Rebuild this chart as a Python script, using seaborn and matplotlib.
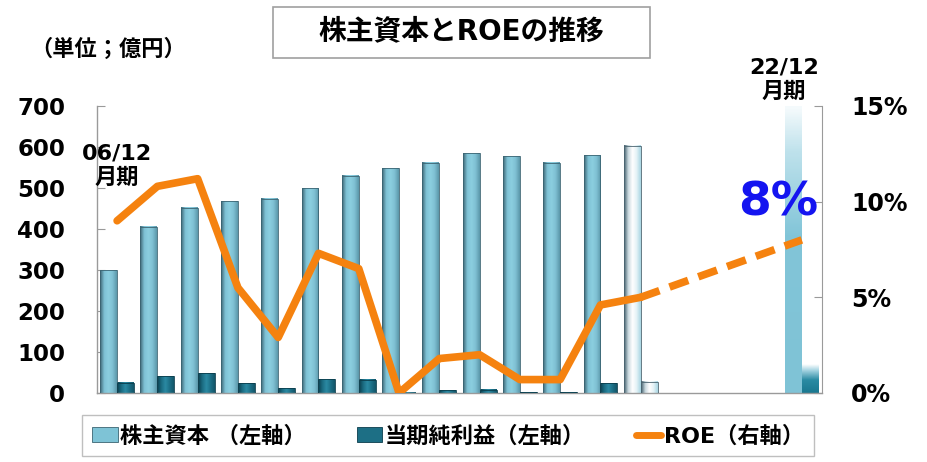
import seaborn as sns
import pandas as pd
import matplotlib.pyplot as plt
import numpy as np
from matplotlib.colors import LinearSegmentedColormap
from matplotlib.patches import Patch, Rectangle
from matplotlib.lines import Line2D

# --- data ---
periods = ['06/12', '07/12', '08/12', '09/12', '10/12', '11/12', '12/12', '13/12', '14/12',
           '15/12', '16/12', '17/12', '18/12', '19/12', '20/12', '21/12', ' ', '22/12']
equity = [300, 405, 452, 468, 474, 500, 530, 548, 562, 585, 577, 562, 580, 603,
          np.nan, np.nan, np.nan, 700]
net_income = [25, 41, 48, 24, 12, 34, 32, 1, 7, 8, 2, 2, 24, 27,
              np.nan, np.nan, np.nan, 70]
roe_actual = [9.0, 10.8, 11.2, 5.5, 2.9, 7.3, 6.5, 0.0, 1.8, 2.0, 0.7, 0.7, 4.6, 5.0]
roe_target = 8.0
forecast_slot = 13   # lighter bar (plan)
target_slot = 17     # 22/12 target

series_names = ['株主資本 （左軸）', '当期純利益（左軸）']

df = pd.DataFrame({
    'period': periods * 2,
    'value': equity + net_income,
    'series': [series_names[0]] * len(periods) + [series_names[1]] * len(periods),
})

sns.set_style('white')
plt.rcParams['font.family'] = ['DejaVu Sans', 'Noto Sans CJK JP']
plt.rcParams['font.weight'] = 'bold'
plt.rcParams['text.color'] = 'black'
plt.rcParams['ytick.labelcolor'] = 'black'

fig = plt.figure(figsize=(9.27, 4.62), dpi=100)
ax = fig.add_axes([0.1046, 0.1494, 0.7821, 0.6212])

sns.barplot(data=df, x='period', y='value', hue='series', order=periods,
            hue_order=series_names, palette=['#7ec3d6', '#1d6f85'],
            width=0.84, gap=0, legend=False, ax=ax, zorder=2)

# colour maps for the 3D-ish bar faces
cm_eq = LinearSegmentedColormap.from_list('eq', ['#3d6675', '#7fc2d5', '#8ccfe0', '#7fc0d3', '#5b98aa'])
cm_ni = LinearSegmentedColormap.from_list('ni', ['#0b3d4c', '#1b6c82', '#2b8aa3', '#1c6f86', '#13566a'])
cm_fc = LinearSegmentedColormap.from_list('fc', ['#44606c', '#c9d9df', '#ffffff', '#e4f2f6', '#a9d6e3'])
cm_tg_eq = LinearSegmentedColormap.from_list(
    'tge', [(0, '#7fc3d6'), (0.55, '#82c5d8'), (0.85, '#bfe2ec'), (1, '#f4fafc')])
cm_tg_ni = LinearSegmentedColormap.from_list(
    'tgn', [(0, '#1a7890'), (0.45, '#2a8ba3'), (0.8, '#a9d6e3'), (1, '#ffffff')])

hgrad = np.linspace(0, 1, 64).reshape(1, -1)
vgrad = np.linspace(0, 1, 64).reshape(-1, 1)

for k, cont in enumerate(ax.containers):
    for bar in cont:
        h = bar.get_height()
        if not np.isfinite(h):
            continue
        x0 = bar.get_x()
        w = bar.get_width()
        slot = int(np.floor(x0 + w / 2 + 0.5))
        if slot == target_slot:
            cmap = cm_tg_eq if k == 0 else cm_tg_ni
            img = vgrad
            bar.set_edgecolor('none')
        elif slot == forecast_slot:
            cmap = cm_fc
            img = hgrad
            bar.set_edgecolor('#4a6470')
        else:
            cmap = cm_eq if k == 0 else cm_ni
            img = hgrad
            bar.set_edgecolor('#3b6472' if k == 0 else '#0b3d4c')
        bar.set_linewidth(0.6)
        bar.set_facecolor('none')
        bar.set_zorder(3)
        ax.imshow(img, cmap=cmap, extent=[x0, x0 + w, 0, h], aspect='auto',
                  origin='lower', zorder=2.5, interpolation='bilinear')

ax.set_xlim(-0.5, len(periods) - 0.5)
ax.set_ylim(0, 700)
ax.set_yticks(range(0, 701, 100))
ax.set_xticks(np.arange(0.5, len(periods) - 1, 1))
ax.set_xticklabels([])
ax.set_xlabel('')
ax.set_ylabel('')
ax.tick_params(axis='y', direction='in', length=6, color='#9a9a9a', labelsize=16.5, pad=23)
ax.tick_params(axis='x', direction='in', length=5, color='#9a9a9a')
for lab in ax.get_yticklabels():
    lab.set_fontweight('bold')
for s in ['top', 'right']:
    ax.spines[s].set_visible(False)
for s in ['left', 'bottom']:
    ax.spines[s].set_color('#9a9a9a')
    ax.spines[s].set_linewidth(1.0)

# --- ROE line on right axis ---
ax2 = ax.twinx()
roe_x = np.arange(len(roe_actual))
sns.lineplot(x=roe_x, y=roe_actual, ax=ax2, color='#f5820f', linewidth=5.5, zorder=5)
sns.lineplot(x=[roe_x[-1], target_slot], y=[roe_actual[-1], roe_target], ax=ax2,
             color='#f5820f', linewidth=5.5, dashes=(2.6, 1.4), zorder=5)
ax2.lines[-1].set_dash_capstyle('butt')
ax2.set_xlim(-0.5, len(periods) - 0.5)
ax2.set_ylim(0, 15)
ax2.set_yticks([0, 5, 10, 15])
ax2.set_yticklabels([f'{v}%' for v in [0, 5, 10, 15]], fontsize=17, fontweight='bold')
ax2.tick_params(axis='y', direction='in', length=6, color='#9a9a9a', pad=21)
for s in ['top', 'left', 'bottom']:
    ax2.spines[s].set_visible(False)
ax2.spines['right'].set_color('#9a9a9a')
ax2.set_ylabel('')

# --- annotations ---
ax.text(0, 608, '06/12\n月期', ha='center', va='top', fontsize=16, fontweight='bold',
        linespacing=1.25, multialignment='center', clip_on=False, zorder=6)
ax.text(target_slot - 0.45, 818, '22/12\n月期', ha='center', va='top', fontsize=16,
        fontweight='bold', linespacing=1.25, multialignment='center', clip_on=False, zorder=6)
ax2.text(target_slot + 0.4, 9.95, '8%', ha='right', va='center', fontsize=34,
         fontweight='bold', color='#1414f0', zorder=6)

fig.text(0.033, 0.895, '（単位；億円）', ha='left', va='center', fontsize=16, fontweight='bold')

fig.patches.append(Rectangle((273 / 927, 1 - 58 / 462), 377 / 927, 51 / 462,
                             transform=fig.transFigure, facecolor='white',
                             edgecolor='#a0a0a0', linewidth=1.2))
fig.text(461 / 927, 1 - 31 / 462, '株主資本とROEの推移', ha='center', va='center',
         fontsize=20, fontweight='bold')

handles = [Patch(facecolor='#7ec3d6', edgecolor='#3b6472', linewidth=0.6),
           Patch(facecolor='#1d6f85', edgecolor='#0b3d4c', linewidth=0.6),
           Line2D([0], [0], color='#f5820f', linewidth=5)]
leg = fig.legend(handles, series_names + ['ROE（右軸）'], loc='upper left',
                 bbox_to_anchor=(82 / 927, 1 - 415 / 462),
                 ncol=3, frameon=True, fancybox=False,
                 prop={'weight': 'bold', 'size': 16},
                 handlelength=1.15, handletextpad=0.1, columnspacing=2.3,
                 borderpad=0.45, borderaxespad=0)
leg.get_frame().set_edgecolor('#b0b0b0')
leg.get_frame().set_linewidth(1.0)

plt.savefig('out.png', dpi=100)
